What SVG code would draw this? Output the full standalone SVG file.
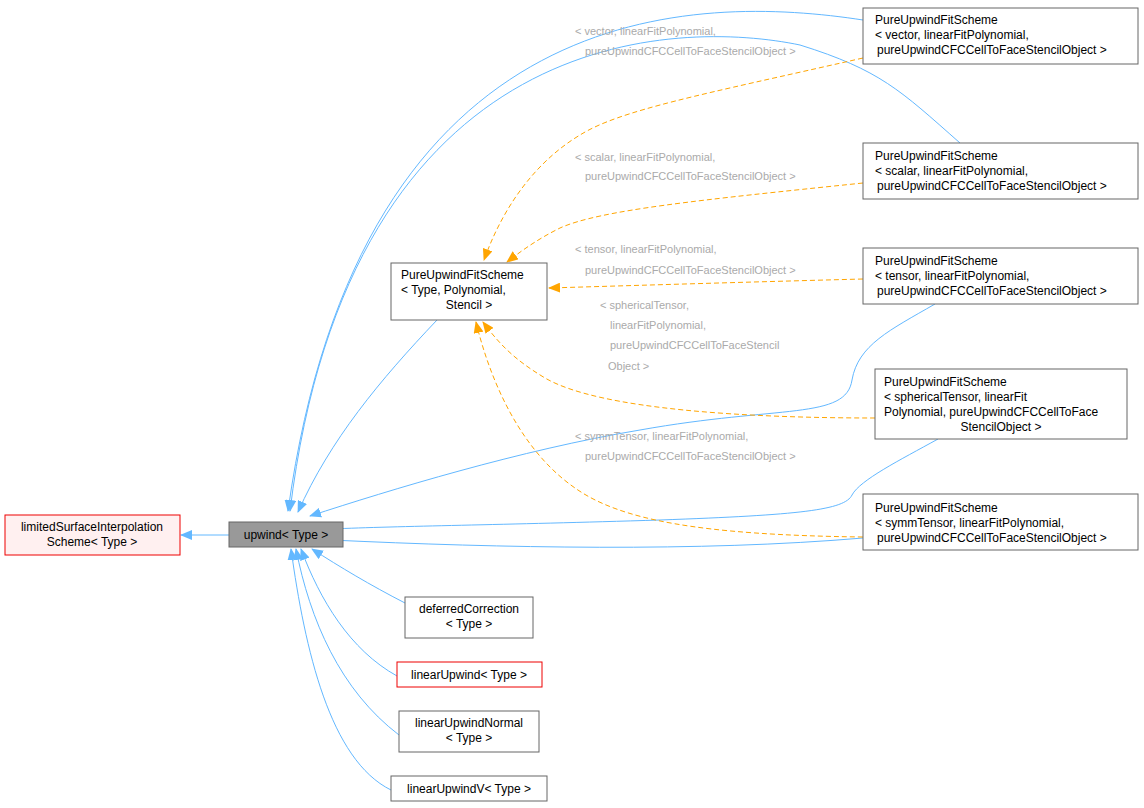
<svg xmlns="http://www.w3.org/2000/svg" width="1144" height="808" viewBox="0 0 1144 808">
<style>
text{font-family:"Liberation Sans",Arial,sans-serif;font-size:12px;fill:#000}
.n rect{fill:#fff;stroke:#666;stroke-width:1}
.r rect{fill:#fff0f0;stroke:#e00}
.g rect{fill:#999;stroke:#666}
.b{fill:none;stroke:#63b8ff;stroke-width:1}
.o{fill:none;stroke:#ffa500;stroke-width:1;stroke-dasharray:5,3}
.l{font-size:11px;fill:#aaa}
</style>
<defs>
<marker id="ab" markerWidth="12" markerHeight="10" refX="11" refY="5" orient="auto" markerUnits="userSpaceOnUse"><path d="M0,0 L12,5 L0,10 z" fill="#63b8ff"/></marker>
<marker id="ao" markerWidth="12" markerHeight="10" refX="11" refY="5" orient="auto" markerUnits="userSpaceOnUse"><path d="M0,0 L12,5 L0,10 z" fill="#ffa500"/></marker>
</defs>
<g id="edges">
<path class="b" marker-end="url(#ab)" d="M229,535 L181,535"/>
<path class="b" marker-end="url(#ab)" d="M863,20 C700,-5 360,-10 288,511"/>
<path class="b" marker-end="url(#ab)" d="M960,143 C900,90 880,70 800,45 C680,20 350,20 290,511"/>
<path class="b" marker-end="url(#ab)" d="M437,320 C380,380 330,440 298,512"/>
<path class="b" marker-end="url(#ab)" d="M935,304 C890,330 858,345 852,380 C846,420 780,405 640,430 C520,450 390,490 310,516"/>
<path class="b" marker-end="url(#ab)" d="M938,439 C900,460 860,480 852,495 C845,510 800,515 660,520 C500,525 400,526 331,529"/>
<path class="b" marker-end="url(#ab)" d="M863,538 C700,552 500,548 331,540"/>
<path class="b" marker-end="url(#ab)" d="M405,603 C370,585 340,567 312,549"/>
<path class="b" marker-end="url(#ab)" d="M397,676 C350,650 320,600 301,549"/>
<path class="b" marker-end="url(#ab)" d="M399,735 C340,690 310,620 296,549"/>
<path class="b" marker-end="url(#ab)" d="M391,790 C330,760 305,650 291,549"/>
<path class="o" marker-end="url(#ao)" d="M863,58 C700,95 620,110 580,135 C530,165 500,215 484,260"/>
<path class="o" marker-end="url(#ao)" d="M863,183 C700,200 600,210 560,228 C540,238 525,248 507,262"/>
<path class="o" marker-end="url(#ao)" d="M863,279 C750,282 650,285 549,288"/>
<path class="o" marker-end="url(#ao)" d="M875,418 C750,418 600,410 545,378 C515,360 500,345 483,322"/>
<path class="o" marker-end="url(#ao)" d="M863,537 C700,535 620,520 575,488 C520,450 490,380 476,322"/>
<text class="l" x="575" y="35">&lt; vector, linearFitPolynomial,</text>
<text class="l" x="585" y="55">pureUpwindCFCCellToFaceStencilObject &gt;</text>
<text class="l" x="575" y="161">&lt; scalar, linearFitPolynomial,</text>
<text class="l" x="585" y="180">pureUpwindCFCCellToFaceStencilObject &gt;</text>
<text class="l" x="575" y="253">&lt; tensor, linearFitPolynomial,</text>
<text class="l" x="585" y="274">pureUpwindCFCCellToFaceStencilObject &gt;</text>
<text class="l" x="600" y="309">&lt; sphericalTensor,</text>
<text class="l" x="610" y="329">linearFitPolynomial,</text>
<text class="l" x="610" y="349">pureUpwindCFCCellToFaceStencil</text>
<text class="l" x="608" y="370">Object &gt;</text>
<text class="l" x="575" y="440">&lt; symmTensor, linearFitPolynomial,</text>
<text class="l" x="585" y="460">pureUpwindCFCCellToFaceStencilObject &gt;</text>
</g>
<g id="limited" class="r"><rect x="5" y="515" width="175" height="40"/><text x="92" y="531" text-anchor="middle">limitedSurfaceInterpolation</text><text x="92" y="546" text-anchor="middle">Scheme&lt; Type &gt;</text></g>
<g id="upwind" class="g"><rect x="229" y="522" width="114" height="25"/><text x="286" y="539" text-anchor="middle">upwind&lt; Type &gt;</text></g>
<g id="pufsType" class="n"><rect x="391" y="263" width="156" height="57"/><text x="401" y="279">PureUpwindFitScheme</text><text x="401" y="294">&lt; Type, Polynomial,</text><text x="469" y="309" text-anchor="middle">Stencil &gt;</text></g>
<g id="pufsVector" class="n"><rect x="863" y="8" width="275" height="56"/><text x="875" y="24">PureUpwindFitScheme</text><text x="875" y="39">&lt; vector, linearFitPolynomial,</text><text x="877" y="54">pureUpwindCFCCellToFaceStencilObject &gt;</text></g>
<g id="pufsScalar" class="n"><rect x="863" y="143" width="275" height="56"/><text x="875" y="160">PureUpwindFitScheme</text><text x="875" y="175">&lt; scalar, linearFitPolynomial,</text><text x="877" y="190">pureUpwindCFCCellToFaceStencilObject &gt;</text></g>
<g id="pufsTensor" class="n"><rect x="863" y="248" width="275" height="56"/><text x="875" y="265">PureUpwindFitScheme</text><text x="875" y="280">&lt; tensor, linearFitPolynomial,</text><text x="877" y="295">pureUpwindCFCCellToFaceStencilObject &gt;</text></g>
<g id="pufsSpherical" class="n"><rect x="875" y="369" width="252" height="70"/><text x="884" y="386">PureUpwindFitScheme</text><text x="884" y="401">&lt; sphericalTensor, linearFit</text><text x="884" y="416">Polynomial, pureUpwindCFCCellToFace</text><text x="1001" y="431" text-anchor="middle">StencilObject &gt;</text></g>
<g id="pufsSymm" class="n"><rect x="863" y="494" width="275" height="56"/><text x="875" y="512">PureUpwindFitScheme</text><text x="875" y="527">&lt; symmTensor, linearFitPolynomial,</text><text x="877" y="542">pureUpwindCFCCellToFaceStencilObject &gt;</text></g>
<g id="deferred" class="n"><rect x="405" y="597" width="128" height="41"/><text x="469" y="613" text-anchor="middle">deferredCorrection</text><text x="469" y="628" text-anchor="middle">&lt; Type &gt;</text></g>
<g id="linearUpwind" class="r"><rect x="397" y="662" width="145" height="25" style="fill:#fff"/><text x="469" y="679" text-anchor="middle">linearUpwind&lt; Type &gt;</text></g>
<g id="linearUpwindNormal" class="n"><rect x="399" y="711" width="140" height="41"/><text x="469" y="727" text-anchor="middle">linearUpwindNormal</text><text x="469" y="742" text-anchor="middle">&lt; Type &gt;</text></g>
<g id="linearUpwindV" class="n"><rect x="391" y="776" width="156" height="25"/><text x="469" y="793" text-anchor="middle">linearUpwindV&lt; Type &gt;</text></g>
</svg>
